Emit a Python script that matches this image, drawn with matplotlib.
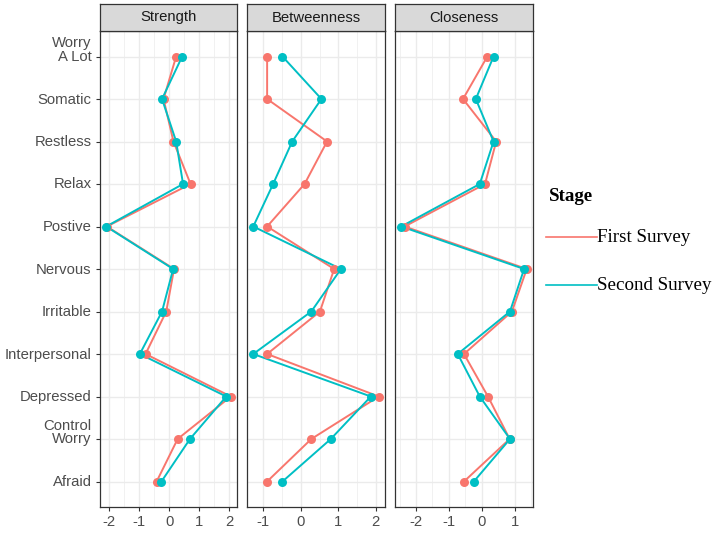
"""
Centrality indices (strength, betweenness, closeness) for two survey stages
"""

import numpy as np
import matplotlib
matplotlib.use('Agg')
import matplotlib.pyplot as plt
from matplotlib.lines import Line2D
from matplotlib.ticker import MultipleLocator
from matplotlib.transforms import ScaledTranslation

plt.rcParams['font.family'] = ['Liberation Sans', 'DejaVu Sans']

# items from bottom to top, as they are drawn on the y axis
items = ['Afraid', 'Control\nWorry', 'Depressed', 'Interpersonal', 'Irritable',
         'Nervous', 'Postive', 'Relax', 'Restless', 'Somatic', 'Worry\nA Lot']

measures = ['Strength', 'Betweenness', 'Closeness']
stages = ['First Survey', 'Second Survey']

strength_first = [-0.42, 0.28, 2.05, -0.79, -0.10, 0.16, -2.08, 0.71, 0.14, -0.19, 0.23]
strength_second = [-0.26, 0.69, 1.90, -0.98, -0.24, 0.13, -2.10, 0.46, 0.23, -0.24, 0.43]

between_first = [-0.90, 0.28, 2.08, -0.90, 0.51, 0.89, -0.90, 0.10, 0.70, -0.90, -0.90]
between_second = [-0.49, 0.80, 1.87, -1.27, 0.28, 1.07, -1.27, -0.74, -0.23, 0.55, -0.49]

close_first = [-0.54, 0.85, 0.19, -0.54, 0.92, 1.37, -2.35, 0.10, 0.44, -0.57, 0.17]
close_second = [-0.24, 0.86, -0.06, -0.73, 0.86, 1.29, -2.45, -0.06, 0.36, -0.18, 0.36]

values = {
    'Strength': (strength_first, strength_second),
    'Betweenness': (between_first, between_second),
    'Closeness': (close_first, close_second),
}

colors = ['#F8766D', '#00BFC4']

W, H = 714, 538
panel_x = [(100, 237), (247, 385), (395, 533)]
panel_top, panel_bottom = 31, 507
strip_top = 4

fig = plt.figure(figsize=(W / 100, H / 100), dpi=100)
fig.patch.set_facecolor('white')

y = np.arange(len(items))

for i, m in enumerate(measures):
    x0, x1 = panel_x[i]
    ax = fig.add_axes([x0 / W, (H - panel_bottom) / H, (x1 - x0) / W,
                       (panel_bottom - panel_top) / H])
    for s, vals in enumerate(values[m]):
        ax.plot(vals, y, color=colors[s], lw=1.4, zorder=3)
        ax.plot(vals, y, 'o', color=colors[s], ms=6.5, mec='none', zorder=4)

    # ggplot style expansion
    allv = np.concatenate(values[m])
    lo, hi = allv.min(), allv.max()
    pad = (hi - lo) * 0.05
    ax.set_xlim(lo - pad, hi + pad)
    ax.set_ylim(-0.6, len(items) - 0.4)

    ax.xaxis.set_major_locator(MultipleLocator(1))
    ax.xaxis.set_minor_locator(MultipleLocator(0.5))
    ax.set_yticks(y)
    ax.grid(True, which='major', color='#EBEBEB', lw=1.0, zorder=0)
    ax.grid(True, which='minor', axis='x', color='#EBEBEB', lw=0.5, zorder=0)
    ax.set_axisbelow(True)

    ax.set_xticklabels([f'{int(t)}' for t in ax.get_xticks()])
    ax.tick_params(axis='both', which='major', length=3, width=0.8,
                   color='#333333', labelcolor='#4D4D4D', labelsize=10.7, pad=3)
    ax.tick_params(axis='both', which='minor', length=0)
    if i == 0:
        ax.set_yticklabels(items, linespacing=1.0)
        # last line of a two-line label sits on the tick
        shift = ScaledTranslation(0, -0.075, fig.dpi_scale_trans)
        for lab in ax.get_yticklabels():
            lab.set_multialignment('right')
            lab.set_verticalalignment('bottom')
            lab.set_transform(lab.get_transform() + shift)
    else:
        ax.tick_params(axis='y', length=0, labelleft=False)

    for sp in ax.spines.values():
        sp.set_color('#333333')
        sp.set_linewidth(0.9)

    # facet strip
    sax = fig.add_axes([x0 / W, (H - panel_top) / H, (x1 - x0) / W,
                        (panel_top - strip_top) / H])
    sax.set_facecolor('#D9D9D9')
    sax.set_xticks([])
    sax.set_yticks([])
    for sp in sax.spines.values():
        sp.set_color('#333333')
        sp.set_linewidth(0.9)
    sax.text(0.5, 0.5, m, ha='center', va='center', fontsize=10.7,
             color='#1A1A1A', transform=sax.transAxes)

# legend, drawn by hand to place it like the ggplot guide
serif = 'Liberation Serif'
fig.text(549 / W, 1 - 196 / H, 'Stage', family=serif, size=13.7,
         weight='bold', va='center', ha='left')
for s, (lab, c) in enumerate(zip(stages, colors)):
    yy = 1 - (237 + 48 * s) / H
    fig.add_artist(Line2D([546 / W, 597 / W], [yy, yy], color=c, lw=1.2,
                          transform=fig.transFigure))
    fig.text(597 / W, yy, lab, family=serif, size=13.7, va='center', ha='left')

fig.savefig('out.png', dpi=100)
